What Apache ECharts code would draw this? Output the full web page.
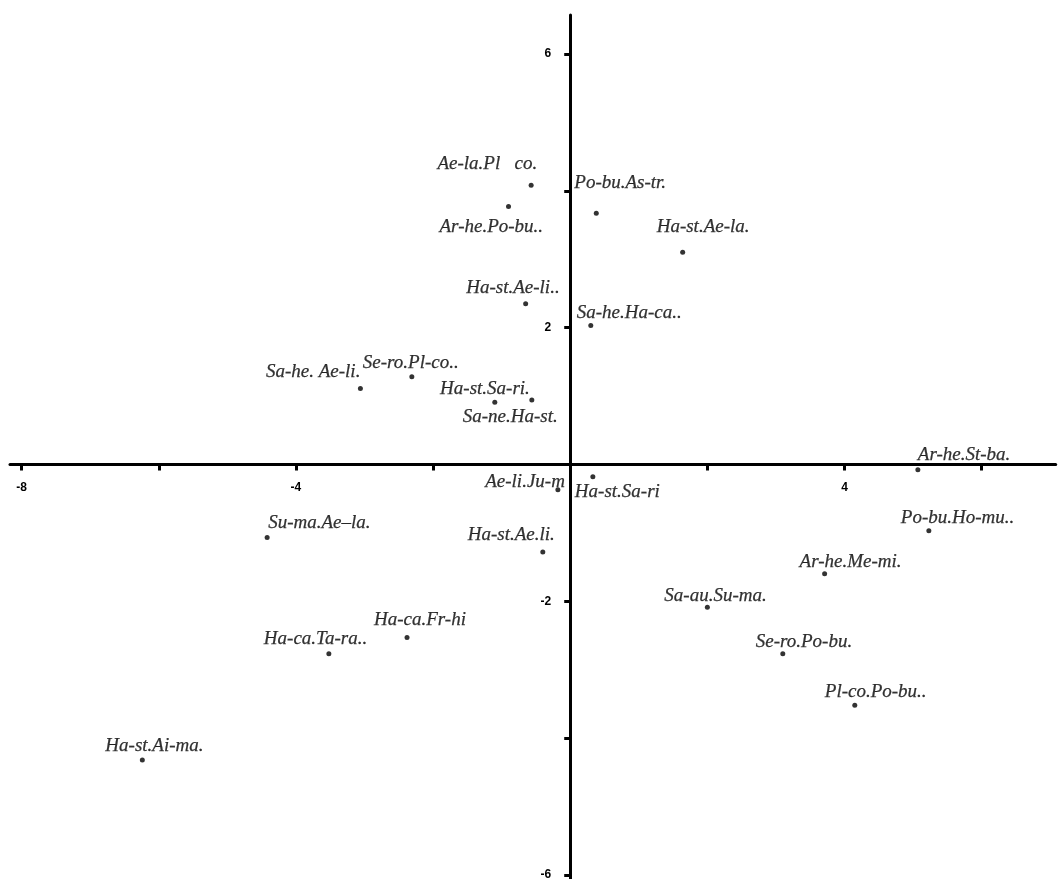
<!DOCTYPE html>
<html>
<head>
<meta charset="utf-8">
<script src="https://cdn.jsdelivr.net/npm/echarts@6/dist/echarts.min.js"></script>
<style>
  html, body { margin: 0; padding: 0; background: #fff; }
  #chart { width: 1059px; height: 879px; }
</style>
</head>
<body>
<div id="chart"></div>
<script>
// ---- data ----
const names = [
  "Ae-la.Pl   co.", "Ar-he.Po-bu..", "Po-bu.As-tr.", "Ha-st.Ae-la.", "Ha-st.Ae-li..",
  "Sa-he.Ha-ca..", "Sa-he. Ae-li.", "Se-ro.Pl-co..", "Ha-st.Sa-ri.", "Sa-ne.Ha-st.",
  "Ae-li.Ju-m", "Ha-st.Sa-ri", "Ar-he.St-ba.", "Po-bu.Ho-mu..", "Ar-he.Me-mi.",
  "Sa-au.Su-ma.", "Se-ro.Po-bu.", "Pl-co.Po-bu..", "Su-ma.Ae\u2013la.", "Ha-st.Ae.li.",
  "Ha-ca.Fr-hi", "Ha-ca.Ta-ra..", "Ha-st.Ai-ma."
];
const xValues = [
  -0.57, -0.90, 0.38, 1.64, -0.65,
  0.30, -3.06, -2.31, -0.56, -1.10,
  -0.18, 0.33, 5.07, 5.23, 3.71,
  2.00, 3.10, 4.15, -4.42, -0.40,
  -2.38, -3.52, -6.24
];
const yValues = [
  4.08, 3.77, 3.67, 3.10, 2.35,
  2.03, 1.11, 1.28, 0.94, 0.91,
  -0.37, -0.18, -0.08, -0.97, -1.60,
  -2.09, -2.77, -3.52, -1.07, -1.28,
  -2.53, -2.77, -4.32
];
const xTicks = [-8, -6, -4, -2, 2, 4, 6];
const xTickLabels = [-8, -4, 4];
const yTicks = [-6, -4, -2, 2, 4, 6];
const yTickLabels = [-6, -2, 2, 6];

// ---- label layout (align, dx, dy in px relative to the point) ----
const labelLayout = [
  ['right', 6, -21], ['left', -69, 20], ['left', -22, -30], ['left', -26, -25], ['right', 34, -16],
  ['left', -14, -13], ['right', 0, -16], ['left', -49, -14], ['right', -2, -11], ['left', -32, 15],
  ['right', 7, -8], ['left', -18, 15], ['left', 0, -15], ['left', -28, -13], ['left', -25, -12],
  ['left', -43, -11], ['left', -27, -12], ['left', -30, -13], ['left', 1, -15], ['right', 12, -17],
  ['left', -33, -17], ['left', -65, -15], ['left', -37, -14]
];

const points = names.map((n, i) => ({
  name: n,
  value: [xValues[i], yValues[i]],
  label: {
    show: true,
    position: 'inside',
    align: labelLayout[i][0],
    verticalAlign: 'middle',
    offset: [labelLayout[i][1], labelLayout[i][2]]
  }
}));

const X_MIN = -8.17, X_MAX = 7.08, Y_MIN = -6.06, Y_MAX = 6.57;
const GRID = { left: 10, top: 15, width: 1045.7, height: 863.9 };

const chart = echarts.init(document.getElementById('chart'), null, { renderer: 'canvas' });
const tickFont = { fontFamily: 'Liberation Sans', fontWeight: 'bold', fontSize: 12, color: '#000' };
const lineStyle = { color: '#000', width: 3 };

function buildOption(xOff, yOff) {
  return {
    animation: false,
    backgroundColor: '#fff',
    grid: Object.assign({ outerBoundsMode: 'none', containLabel: false }, GRID),
    xAxis: [{
      type: 'value', min: X_MIN, max: X_MAX,
      splitLine: { show: false },
      axisLine: { show: true, onZero: true, lineStyle: lineStyle },
      axisTick: { show: true, length: 6, customValues: xTicks, lineStyle: lineStyle },
      axisLabel: { show: false }
    }, {
      // label carrier placed on the zero line of the y axis
      type: 'value', min: X_MIN, max: X_MAX, position: 'bottom', offset: xOff,
      splitLine: { show: false },
      axisLine: { show: false, onZero: false },
      axisTick: { show: false },
      axisLabel: Object.assign({ show: true, customValues: xTickLabels, margin: 17 }, tickFont)
    }],
    yAxis: [{
      type: 'value', min: Y_MIN, max: Y_MAX,
      splitLine: { show: false },
      axisLine: { show: true, onZero: true, lineStyle: lineStyle },
      axisTick: { show: true, length: 6, customValues: yTicks, lineStyle: lineStyle },
      axisLabel: { show: false }
    }, {
      type: 'value', min: Y_MIN, max: Y_MAX, position: 'left', offset: yOff,
      splitLine: { show: false },
      axisLine: { show: false, onZero: false },
      axisTick: { show: false },
      axisLabel: Object.assign({ show: true, customValues: yTickLabels, margin: 19 }, tickFont)
    }],
    series: [{
      type: 'scatter',
      xAxisIndex: 0, yAxisIndex: 0,
      symbol: 'circle',
      symbolSize: 5,
      itemStyle: { color: '#000' },
      label: {
        formatter: '{b}',
        fontFamily: 'Liberation Serif',
        fontStyle: 'italic',
        fontSize: 19,
        color: '#000',
        textBorderColor: '#000',
        textBorderWidth: 0.25
      },
      data: points
    }]
  };
}

chart.setOption(buildOption(0, 0));
// move the label-carrying axes onto the zero lines (computed through the axes' own scales)
const zeroX = chart.convertToPixel({ xAxisIndex: 0 }, 0);
const zeroY = chart.convertToPixel({ yAxisIndex: 0 }, 0);
const xOff = -((GRID.top + GRID.height) - zeroY);
const yOff = -(zeroX - GRID.left);
chart.setOption(buildOption(xOff, yOff), true);
</script>
</body>
</html>
